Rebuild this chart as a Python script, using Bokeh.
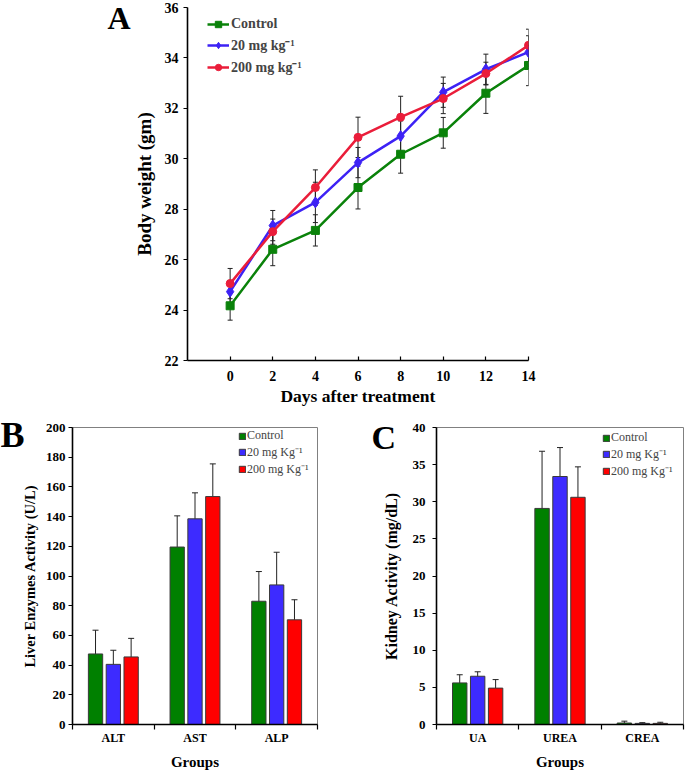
import numpy as np
from bokeh.plotting import figure
from bokeh.models import (ColumnDataSource, Whisker, TeeHead, Legend, LegendItem,
                          FixedTicker, Range1d, GridBox)
from bokeh.layouts import column, row
from bokeh.transform import dodge
from bokeh.embed import file_html
from bokeh.resources import INLINE

SERIF = "Liberation Serif"

# ---------------- data ----------------
# Panel A: body weight (gm) vs days after treatment
days = [0, 2, 4, 6, 8, 10, 12, 14]
bw_control = [24.17, 26.41, 27.16, 28.86, 30.18, 31.03, 32.60, 33.70]
bw_control_err = [0.57, 0.65, 0.62, 0.85, 0.75, 0.61, 0.80, 0.80]
bw_20 = [24.73, 27.35, 28.27, 29.85, 30.90, 32.64, 33.55, 34.23]
bw_20_err = [0.45, 0.60, 0.80, 0.60, 0.60, 0.60, 0.60, 0.65]
bw_200 = [25.05, 27.11, 28.86, 30.85, 31.65, 32.39, 33.38, 34.50]
bw_200_err = [0.60, 0.50, 0.70, 0.80, 0.83, 0.60, 0.45, 0.64]
y_ticks_a = [22, 24, 26, 28, 30, 32, 34, 36]

# Panel B: liver enzymes activity (U/L)
liver_groups = ["ALT", "AST", "ALP"]
liver_control = [47.5, 119.5, 83.0]
liver_control_err = [16.0, 21.0, 20.0]
liver_20 = [40.5, 138.5, 94.0]
liver_20_err = [9.5, 17.5, 22.0]
liver_200 = [45.5, 153.5, 70.5]
liver_200_err = [12.5, 22.0, 13.5]
y_ticks_b = [0, 20, 40, 60, 80, 100, 120, 140, 160, 180, 200]

# Panel C: kidney activity (mg/dL)
kidney_groups = ["UA", "UREA", "CREA"]
kidney_control = [5.6, 29.1, 0.2]
kidney_control_err = [1.1, 7.7, 0.25]
kidney_20 = [6.5, 33.4, 0.15]
kidney_20_err = [0.6, 3.9, 0.1]
kidney_200 = [4.9, 30.6, 0.15]
kidney_200_err = [1.15, 4.1, 0.15]
y_ticks_c = [0, 5, 10, 15, 20, 25, 30, 35, 40]

series_a = ["Control", "20 mg kg\u207b\u00b9", "200 mg kg\u207b\u00b9"]
series_bc = ["Control", "20 mg Kg\u207b\u00b9", "200 mg Kg\u207b\u00b9"]

# panel letters (page-pixel placement on a transparent overlay, vertical middle)
letters = ["A", "B", "C"]
letter_x = [107, 0, 371]
letter_y = [17.5, 434.5, 436.5]
letter_size = ["32px", "36px", "34px"]

# ---------------- styles ----------------
LINE_COLORS = ["#0a820a", "#3d22f5", "#ea1d3a"]
BAR_COLORS = ["#008000", "#3d2bff", "#ff0000"]
MARKERS = [("square", 8), ("diamond", 11), ("circle", 8)]


def style_axes(p, tick_size):
    for ax in (p.xaxis, p.yaxis):
        ax.major_label_text_font = SERIF
        ax.major_label_text_font_style = "bold"
        ax.major_label_text_font_size = tick_size
        ax.major_label_text_color = "black"
        ax.axis_label_text_font = SERIF
        ax.axis_label_text_font_style = "bold"
        ax.axis_label_text_color = "black"
        ax.axis_line_color = "black"
        ax.axis_line_width = 1.6
        ax.major_tick_line_color = "black"
        ax.major_tick_line_width = 1.2
        ax.minor_tick_line_color = None
    p.grid.visible = False
    p.background_fill_color = "white"
    p.border_fill_color = "white"


# ---------------- Panel A ----------------
pA = figure(width=685, height=408, x_range=Range1d(-2, 14), y_range=Range1d(22, 36),
            output_backend="svg", toolbar_location=None,
            min_border_left=187, min_border_right=157, min_border_top=7, min_border_bottom=48)
style_axes(pA, "14px")
pA.outline_line_color = None
pA.xaxis.ticker = FixedTicker(ticks=days)
pA.yaxis.ticker = FixedTicker(ticks=y_ticks_a)
pA.xaxis.major_tick_in = 4
pA.xaxis.major_tick_out = 0
pA.xaxis.major_label_standoff = 10
pA.yaxis.major_tick_in = 0
pA.yaxis.major_tick_out = 4
pA.yaxis.major_label_standoff = 5
pA.xaxis.axis_label = "Days after treatment"
pA.yaxis.axis_label = "Body weight (gm)"
pA.xaxis.axis_label_text_font_size = "17.5px"
pA.yaxis.axis_label_text_font_size = "19px"
pA.xaxis.axis_label_standoff = 2
pA.yaxis.axis_label_standoff = 7

items_a = []
for name, vals, errs, color, (mk, sz) in zip(
        series_a, [bw_control, bw_20, bw_200], [bw_control_err, bw_20_err, bw_200_err],
        LINE_COLORS, MARKERS):
    v = np.array(vals)
    e = np.array(errs)
    src = ColumnDataSource(dict(x=days, y=vals, upper=v + e, lower=v - e))
    lr = pA.line("x", "y", source=src, line_color=color, line_width=2.5)
    sr = pA.scatter("x", "y", source=src, marker=mk, size=sz, fill_color=color, line_color=color)
    pA.add_layout(Whisker(source=src, base="x", upper="upper", lower="lower",
                          line_color="#222222", line_width=1,
                          upper_head=TeeHead(size=5, line_color="#222222", line_width=1),
                          lower_head=TeeHead(size=5, line_color="#222222", line_width=1)))
    items_a.append(LegendItem(label=name, renderers=[lr, sr]))

legA = Legend(items=items_a, location=(20, 284), orientation="vertical",
              glyph_width=22, glyph_height=16, label_height=16, spacing=3,
              label_standoff=2, padding=0, margin=0,
              label_text_font=SERIF, label_text_font_style="bold", label_text_font_size="14px",
              background_fill_alpha=0, border_line_color=None)
pA.add_layout(legA)


# ---------------- bar panels ----------------
def bar_panel(groups, data, errs, y_max, y_ticks, ylabel, ylabel_size, width, left, right,
              top, legend_loc, ylabel_standoff, tick_standoff):
    p = figure(width=width, height=364, x_range=Range1d(0, len(groups)),
               y_range=Range1d(0, y_max), output_backend="svg", toolbar_location=None,
               min_border_left=left, min_border_right=right, min_border_top=top,
               min_border_bottom=47)
    style_axes(p, "13px")
    p.xaxis.major_label_text_font_size = "12px"
    p.outline_line_color = "#808080"
    p.outline_line_width = 1
    centers = list(np.arange(len(groups)) + 0.5)
    bounds = list(np.arange(len(groups) + 1))
    p.xaxis.ticker = FixedTicker(ticks=centers, minor_ticks=bounds)
    p.xaxis.major_label_overrides = {float(c): g for c, g in zip(centers, groups)}
    p.xaxis.major_tick_line_color = None
    p.xaxis.major_tick_out = 0
    p.xaxis.major_tick_in = 0
    p.xaxis.minor_tick_line_color = "black"
    p.xaxis.minor_tick_line_width = 1.2
    p.xaxis.minor_tick_out = 5
    p.xaxis.minor_tick_in = 0
    p.xaxis.major_label_standoff = 1
    p.yaxis.ticker = FixedTicker(ticks=y_ticks)
    p.yaxis.major_tick_out = 4
    p.yaxis.major_tick_in = 0
    p.yaxis.major_label_standoff = tick_standoff
    p.xaxis.axis_label = "Groups"
    p.yaxis.axis_label = ylabel
    p.xaxis.axis_label_text_font_size = "15px"
    p.yaxis.axis_label_text_font_size = ylabel_size
    p.xaxis.axis_label_standoff = 6
    p.yaxis.axis_label_standoff = ylabel_standoff

    offsets = [-0.218, 0.0, 0.218]
    items = []
    for name, vals, e, color, off in zip(series_bc, data, errs, BAR_COLORS, offsets):
        v = np.array(vals)
        ee = np.array(e)
        src = ColumnDataSource(dict(x=centers, top=vals, upper=v + ee, lower=v - ee))
        r = p.vbar(x=dodge("x", off, range=p.x_range), top="top", width=0.175, bottom=0,
                   source=src, fill_color=color, line_color="#3a3a3a", line_width=1)
        p.add_layout(Whisker(source=src, base=dodge("x", off, range=p.x_range),
                             upper="upper", lower="lower", line_color="#222222", line_width=1,
                             upper_head=TeeHead(size=6, line_color="#222222", line_width=1),
                             lower_head=TeeHead(size=6, line_color="#222222", line_width=1)))
        items.append(LegendItem(label=name, renderers=[r]))
    leg = Legend(items=items, location=legend_loc, orientation="vertical",
                 glyph_width=8, glyph_height=8, label_height=8, spacing=0,
                 label_standoff=1, padding=0, margin=0,
                 label_text_font=SERIF, label_text_font_style="normal",
                 label_text_font_size="12px",
                 background_fill_alpha=0, border_line_color=None)
    p.add_layout(leg)
    return p


pB = bar_panel(liver_groups, [liver_control, liver_20, liver_200],
               [liver_control_err, liver_20_err, liver_200_err], 200, y_ticks_b,
               "Liver Enzymes Activity (U/L)", "14.5px", 340, 72, 23, 15,
               (166, 247), 5, 3)
pC = bar_panel(kidney_groups, [kidney_control, kidney_20, kidney_200],
               [kidney_control_err, kidney_20_err, kidney_200_err], 40, y_ticks_c,
               "Kidney Activity (mg/dL)", "16px", 345, 96, 2, 19,
               (166, 245), 10, 7)

main = column(pA, row(pB, pC))

# transparent overlay carrying the panel letters, sharing the same grid cell
ov = figure(width=685, height=772, x_range=Range1d(0, 685), y_range=Range1d(772, 0),
            x_axis_type=None, y_axis_type=None, output_backend="svg", toolbar_location=None,
            min_border=0)
ov.grid.visible = False
ov.outline_line_color = None
ov.background_fill_alpha = 0
ov.border_fill_alpha = 0
lsrc = ColumnDataSource(dict(x=letter_x, y=letter_y, text=letters, size=letter_size))
ov.text(x="x", y="y", text="text", source=lsrc, text_font=SERIF, text_font_style="bold",
        text_font_size="size", text_baseline="middle", text_align="left",
        text_color="black")

root = GridBox(children=[(main, 0, 0), (ov, 0, 0)])
open("out.html", "w").write(file_html(root, INLINE))
